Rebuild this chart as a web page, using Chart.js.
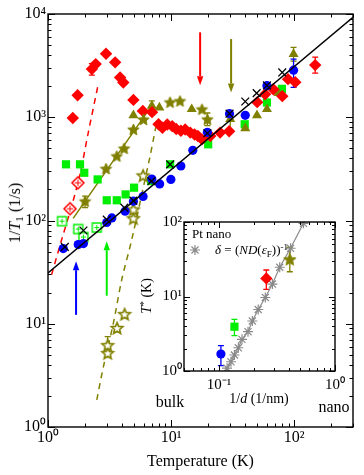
<!DOCTYPE html>
<html lang="en">
<head>
<meta charset="UTF-8">
<title>1/T1 versus temperature, Pt nano</title>
<script src="https://cdn.jsdelivr.net/npm/chart.js"></script>
<style>
  body { margin: 0; background: #fff; }
  #wrap { position: relative; width: 364px; height: 475px; overflow: hidden; }
  #mainChart { position: absolute; left: 0; top: 0; width: 364px; height: 475px; }
  #insetChart { position: absolute; left: 130px; top: 206px; width: 225px; height: 200px; }
  .lbl { position: absolute; font-family: "Liberation Serif", "Times New Roman", serif; color: #000;
         white-space: nowrap; line-height: 1; transform: translate(-50%, -50%); }
  .rot { transform: translate(-50%, -50%) rotate(-90deg); }
  .sub { font-size: 0.7em; position: relative; top: 0.3em; }
  .sup { font-size: 0.7em; position: relative; top: -0.45em; }
</style>
</head>
<body>
<div id="wrap">
  <canvas id="mainChart" width="364" height="475"></canvas>
  <canvas id="insetChart" width="225" height="200"></canvas>

  <div class="lbl rot" style="left:15px; top:213px; font-size:16px;">1/<i>T</i><span class="sub">1</span> (1/s)</div>
  <div class="lbl" style="left:170px; top:402px; font-size:16px;">bulk</div>
  <div class="lbl" style="left:334px; top:407px; font-size:16px;">nano</div>
  <div class="lbl" style="left:259px; top:399px; font-size:14px;">1/<i>d</i> (1/nm)</div>
  <div class="lbl rot" style="left:147px; top:296px; font-size:14px;"><i>T</i><span class="sup">*</span> (K)</div>
  <div class="lbl" style="left:192px; top:233px; font-size:13px; transform: translate(0, -50%);">Pt nano</div>
  <div class="lbl" style="left:215px; top:250px; font-size:13px; transform: translate(0, -50%);"><i>δ</i> = (<i>ND</i>(<i>ε</i><span class="sub">F</span>))<span class="sup">-1</span></div>
</div>

<script>
const FONT = '"Liberation Serif", "Times New Roman", serif';
const RED = '#ff0000', BLUE = '#0000ff', GREEN = '#00ee00', OLIVE = '#808000', GRAY = '#8a8a8a';

// ---- main plot: temperature (K) vs 1/T1 (1/s) ----
const redT = [1.59, 1.74, 2.27, 2.44, 2.96, 3.51, 3.85, 4.09, 4.94, 5.89, 7.0, 7.9, 8.5, 9.3, 10.2, 11.0, 12.0, 13.0, 14.3, 15.5, 16.5, 17.8, 20.8, 25.0, 29.6, 50, 58, 67.5, 80, 89, 102, 148];
const redV = [985, 1636, 2925, 3270, 4120, 3400, 2430, 2170, 1472, 1152, 1120, 855, 790, 850, 820, 770, 740, 760, 710, 680, 658, 611, 658, 710, 731, 1400, 1672, 1870, 1600, 2340, 2188, 3200];
const redOpenT = [1.51, 1.75];
const redOpenV = [130, 232];
const redFitT = [1.07, 1.29, 1.57, 1.82, 2.11, 2.55];
const redFitV = [29.9, 65, 143, 280, 684, 2045];

const oliveTriT = [4.94, 6.97, 8.03, 14.7, 30.2, 40, 49.8, 60, 74.5, 98.7];
const oliveTriV = [1045, 1288, 1242, 1197, 957, 780, 1045, 1196, 1710, 4090];
const oliveStarT = [2.0, 2.96, 3.62, 4.15, 4.94, 5.96, 9.8, 11.8, 17.8, 19.7];
const oliveStarV = [154, 318, 421, 500, 764, 955, 1400, 1440, 1197, 957];
const oliveFitT = [1.6, 7.0];
const oliveFitV = [105, 1310];
const oliveOpenT = [3.05, 3.05, 3.64, 4.19, 4.94, 4.94, 5.92];
const oliveOpenV = [5.2, 6.2, 9.1, 12.4, 105, 128, 273];
const oliveDashT = [2.49, 2.82, 3.4, 3.97, 4.79, 6.75, 7.18, 7.5];
const oliveDashV = [1.83, 3.85, 10.2, 26.7, 65.4, 421, 611, 800];

const greenT = [1.4, 1.82, 1.97, 2.53, 3.0, 3.62, 4.27, 5.0, 6.88, 9.82, 20, 39.6, 60, 79.4];
const greenV = [350, 350, 290, 250, 157, 157, 179, 208, 241, 350, 547, 855, 1390, 1885];
const greenOpenT = [1.3, 1.76, 1.94, 2.49];
const greenOpenV = [98.5, 82.7, 69.2, 85.5];

const blueT = [1.33, 1.76, 1.94, 3.0, 3.3, 4.23, 4.94, 5.92, 6.97, 8.07, 9.95, 12, 15, 19.7, 29.8, 40, 60, 98.7];
const blueV = [53.5, 58.5, 59.8, 95.6, 106, 123, 154, 171, 252, 226, 250, 337, 478, 715, 1082, 1045, 2023, 2860];
const crossT = [1.37, 1.94, 3.0, 4.17, 4.94, 6.92, 9.82, 19.7, 29.8, 40, 49.5, 60, 79.9];
const crossV = [55.6, 80, 102, 133, 156, 241, 350, 700, 1082, 1420, 1710, 2032, 2715];
const korT = [1, 300];
const korV = [31, 9300];

// error bars (main)
const errT  = [2.27, 6.97, 2.0, 19.7, 30.2, 98.7, 98.7, 148, 3.05];
const errLo = [2560, 1150, 133, 830, 760, 3500, 1943, 2673, 5.0];
const errHi = [3300, 1440, 172, 1100, 1050, 4750, 3660, 3825, 7.5];
const errColor = [RED, OLIVE, OLIVE, OLIVE, OLIVE, OLIVE, BLUE, RED, OLIVE];

// arrows (main)
const arrowT = [1.69, 3.0, 17.2, 30.7];
const arrowFrom = [12.2, 18.7, 6640, 5720];
const arrowTo = [40.3, 63, 2045, 1738];
const arrowColor = [BLUE, GREEN, RED, OLIVE];

// ---- inset: 1/d (1/nm) vs T* (K) ----
const deltaX = [0.1174, 0.127, 0.136, 0.147, 0.158, 0.178, 0.194, 0.218, 0.251, 0.289, 0.334, 0.414, 0.535];
const deltaV = [1.09, 1.33, 1.64, 2.05, 2.66, 3.37, 4.69, 6.69, 9.7, 14.7, 24.7, 44.4, 96];
const insBlueX = [0.104], insBlueV = [1.69];
const insGreenX = [0.136], insGreenV = [3.93];
const insRedX = [0.256], insRedV = [17.5];
const insOliveX = [0.408], insOliveV = [31.6];
const insErrX = [0.104, 0.136, 0.256, 0.408];
const insErrLo = [1.18, 2.98, 12.5, 21.5];
const insErrHi = [2.19, 4.94, 22.7, 45.7];
const insErrColor = [BLUE, GREEN, RED, OLIVE];

// ---- helpers ----
const pts = (xs, ys) => xs.map((x, i) => ({ x: x, y: ys[i] }));
const isPow10 = v => Math.abs(Math.log10(v) - Math.round(Math.log10(v))) < 1e-6;
const SUP = { '-': '\u207B', '0': '\u2070', '1': '\u00B9', '2': '\u00B2', '3': '\u00B3', '4': '\u2074' };
function powLabel(v) {
  if (!isPow10(v)) return '';
  return '10' + String(Math.round(Math.log10(v))).split('').map(c => SUP[c]).join('');
}
function logTicks(min, max) {
  const out = [];
  for (let e = Math.floor(Math.log10(min)); e <= Math.ceil(Math.log10(max)); e++) {
    for (let m = 1; m <= 9; m++) {
      const v = m * Math.pow(10, e);
      if (v >= min * 0.999 && v <= max * 1.001) out.push({ value: v });
    }
  }
  return out;
}

function makeStar(r, fill, stroke, lw) {
  const c = document.createElement('canvas');
  const s = Math.ceil(2 * r + lw + 2);
  c.width = c.height = s;
  const g = c.getContext('2d');
  g.beginPath();
  for (let k = 0; k < 10; k++) {
    const rr = k % 2 ? r * 0.45 : r;
    const a = -Math.PI / 2 + k * Math.PI / 5;
    g.lineTo(s / 2 + rr * Math.cos(a), s / 2 + 0.6 + rr * Math.sin(a));
  }
  g.closePath();
  g.fillStyle = fill; g.fill();
  g.lineWidth = lw; g.strokeStyle = stroke; g.stroke();
  return c;
}
function makeCrossed(shape, h, color, lw) {
  const c = document.createElement('canvas');
  const s = Math.ceil(2 * h + lw + 2);
  c.width = c.height = s;
  const g = c.getContext('2d');
  const m = s / 2;
  g.beginPath();
  if (shape === 'diamond') {
    g.moveTo(m, m - h); g.lineTo(m + h, m); g.lineTo(m, m + h); g.lineTo(m - h, m);
  } else {
    g.rect(m - h, m - h, 2 * h, 2 * h);
  }
  g.closePath();
  g.fillStyle = '#fff'; g.fill();
  g.lineWidth = lw; g.strokeStyle = color; g.stroke();
  g.beginPath();
  const k = h * 0.55;
  g.moveTo(m - k, m); g.lineTo(m + k, m);
  g.moveTo(m, m - k); g.lineTo(m, m + k);
  g.lineWidth = 1; g.stroke();
  return c;
}

const starFilled = makeStar(6, OLIVE, OLIVE, 1);
const starOpen = makeStar(6, '#fff', OLIVE, 1.6);
const starInset = makeStar(6.5, OLIVE, OLIVE, 1);
const diamondOpen = makeCrossed('diamond', 6, RED, 1.5);
const squareOpen = makeCrossed('square', 4.5, GREEN, 1.4);

// inward ticks on all four sides plus the frame
function framePlugin(major, minor) {
  return {
    id: 'frame',
    afterDraw(chart) {
      const { ctx, chartArea: a } = chart;
      const sx = chart.scales.x, sy = chart.scales.y;
      ctx.save();
      ctx.strokeStyle = '#000';
      ctx.lineWidth = 1;
      ctx.beginPath();
      sx.ticks.forEach(t => {
        const p = Math.round(sx.getPixelForValue(t.value)) + 0.5;
        const len = isPow10(t.value) ? major : minor;
        ctx.moveTo(p, a.bottom); ctx.lineTo(p, a.bottom - len);
        ctx.moveTo(p, a.top); ctx.lineTo(p, a.top + len);
      });
      sy.ticks.forEach(t => {
        const p = Math.round(sy.getPixelForValue(t.value)) + 0.5;
        const len = isPow10(t.value) ? major : minor;
        ctx.moveTo(a.left, p); ctx.lineTo(a.left + len, p);
        ctx.moveTo(a.right, p); ctx.lineTo(a.right - len, p);
      });
      ctx.stroke();
      ctx.lineWidth = 1.4;
      ctx.strokeRect(a.left, a.top, a.right - a.left, a.bottom - a.top);
      ctx.restore();
    }
  };
}

function errorPlugin(xs, lo, hi, colors) {
  return {
    id: 'errbars',
    beforeDatasetsDraw(chart) {
      const { ctx } = chart;
      const sx = chart.scales.x, sy = chart.scales.y;
      ctx.save();
      ctx.lineWidth = 1.3;
      xs.forEach((x, i) => {
        const px = sx.getPixelForValue(x);
        const y1 = sy.getPixelForValue(lo[i]), y2 = sy.getPixelForValue(hi[i]);
        ctx.strokeStyle = colors[i];
        ctx.beginPath();
        ctx.moveTo(px, y1); ctx.lineTo(px, y2);
        ctx.moveTo(px - 3, y1); ctx.lineTo(px + 3, y1);
        ctx.moveTo(px - 3, y2); ctx.lineTo(px + 3, y2);
        ctx.stroke();
      });
      ctx.restore();
    }
  };
}

const arrowPlugin = {
  id: 'arrows',
  afterDatasetsDraw(chart) {
    const { ctx } = chart;
    const sx = chart.scales.x, sy = chart.scales.y;
    ctx.save();
    arrowT.forEach((t, i) => {
      const px = sx.getPixelForValue(t);
      const y0 = sy.getPixelForValue(arrowFrom[i]);
      const y1 = sy.getPixelForValue(arrowTo[i]);
      const dir = y1 < y0 ? -1 : 1;
      const head = 9;
      ctx.strokeStyle = arrowColor[i];
      ctx.fillStyle = arrowColor[i];
      ctx.lineWidth = 2;
      ctx.beginPath();
      ctx.moveTo(px, y0); ctx.lineTo(px, y1 - dir * head);
      ctx.stroke();
      ctx.beginPath();
      ctx.moveTo(px, y1);
      ctx.lineTo(px - 3.2, y1 - dir * head);
      ctx.lineTo(px + 3.2, y1 - dir * head);
      ctx.closePath();
      ctx.fill();
    });
    ctx.restore();
  }
};

const insetLegend = {
  id: 'insetLegend',
  afterDraw(chart) {
    const { ctx, chartArea: a } = chart;
    const cx = a.left + 11, cy = a.top + 28, r = 5;
    ctx.save();
    ctx.strokeStyle = GRAY;
    ctx.lineWidth = 1.2;
    ctx.beginPath();
    for (let k = 0; k < 4; k++) {
      const ang = k * Math.PI / 4;
      ctx.moveTo(cx - r * Math.cos(ang), cy - r * Math.sin(ang));
      ctx.lineTo(cx + r * Math.cos(ang), cy + r * Math.sin(ang));
    }
    ctx.stroke();
    ctx.restore();
  }
};

function logAxis(min, max, fitKey, fitSize, fontSize, pad) {
  return {
    type: 'logarithmic', min: min, max: max, bounds: 'data',
    grid: { display: false, drawTicks: false },
    border: { display: false },
    afterBuildTicks: s => { s.ticks = logTicks(min, max); },
    afterFit: s => { s[fitKey] = fitSize; },
    ticks: {
      autoSkip: false, maxRotation: 0, minRotation: 0, padding: pad,
      color: '#000', font: { family: FONT, size: fontSize },
      callback: v => powLabel(v)
    }
  };
}

// ---- main chart ----
const xMain = logAxis(1, 300, 'height', 48, 16, 1);
xMain.title = { display: true, text: 'Temperature (K)', color: '#000',
  font: { family: FONT, size: 16 }, padding: { top: 0, bottom: 4 } };
const yMain = logAxis(1, 10000, 'width', 48, 16, 2);

new Chart(document.getElementById('mainChart'), {
  type: 'scatter',
  data: {
    datasets: [
      { data: pts(redFitT, redFitV), showLine: true, pointRadius: 0, borderColor: RED, borderWidth: 1.5, borderDash: [6, 5], tension: 0.3, order: 20 },
      { data: pts(oliveDashT, oliveDashV), showLine: true, pointRadius: 0, borderColor: OLIVE, borderWidth: 1.5, borderDash: [6, 5], tension: 0.3, order: 19 },
      { data: pts(oliveFitT, oliveFitV), showLine: true, pointRadius: 0, borderColor: OLIVE, borderWidth: 1.5, order: 18 },
      { data: pts(greenT, greenV), pointStyle: 'rect', pointRadius: 5.8, backgroundColor: GREEN, borderColor: GREEN, borderWidth: 0, order: 15 },
      { data: pts(greenOpenT, greenOpenV), pointStyle: squareOpen, pointRadius: 5, order: 14 },
      { data: pts(oliveTriT, oliveTriV), pointStyle: 'triangle', pointRadius: 5.8, backgroundColor: OLIVE, borderColor: OLIVE, borderWidth: 0, order: 13 },
      { data: pts(redT, redV), pointStyle: 'rectRot', pointRadius: 6.2, backgroundColor: RED, borderColor: RED, borderWidth: 0, order: 12 },
      { data: pts(oliveStarT, oliveStarV), pointStyle: starFilled, pointRadius: 5, order: 11 },
      { data: pts(oliveOpenT, oliveOpenV), pointStyle: starOpen, pointRadius: 5, order: 10 },
      { data: pts(redOpenT, redOpenV), pointStyle: diamondOpen, pointRadius: 5, order: 9 },
      { data: pts(blueT, blueV), pointStyle: 'circle', pointRadius: 4.6, backgroundColor: BLUE, borderColor: BLUE, borderWidth: 0, order: 8 },
      { data: pts(korT, korV), showLine: true, pointRadius: 0, borderColor: '#000', borderWidth: 1.5, order: 7 },
      { data: pts(crossT, crossV), pointStyle: 'crossRot', pointRadius: 5.5, borderColor: '#000', borderWidth: 1.3, order: 6 }
    ]
  },
  options: {
    responsive: false,
    animation: false,
    devicePixelRatio: 1,
    layout: { padding: { left: 0, right: 11, top: 14, bottom: 0 } },
    scales: { x: xMain, y: yMain },
    plugins: { legend: { display: false }, tooltip: { enabled: false } }
  },
  plugins: [errorPlugin(errT, errLo, errHi, errColor), arrowPlugin, framePlugin(7, 3.5)]
});

// ---- inset chart ----
new Chart(document.getElementById('insetChart'), {
  type: 'scatter',
  data: {
    datasets: [
      { data: pts(deltaX, deltaV), showLine: true, pointStyle: 'star', pointRadius: 5, borderColor: GRAY, borderWidth: 1.2, order: 5 },
      { data: pts(insBlueX, insBlueV), pointStyle: 'circle', pointRadius: 4.6, backgroundColor: BLUE, borderColor: BLUE, borderWidth: 0, order: 4 },
      { data: pts(insGreenX, insGreenV), pointStyle: 'rect', pointRadius: 5.8, backgroundColor: GREEN, borderColor: GREEN, borderWidth: 0, order: 3 },
      { data: pts(insRedX, insRedV), pointStyle: 'rectRot', pointRadius: 6.2, backgroundColor: RED, borderColor: RED, borderWidth: 0, order: 2 },
      { data: pts(insOliveX, insOliveV), pointStyle: starInset, pointRadius: 5, order: 1 }
    ]
  },
  options: {
    responsive: false,
    animation: false,
    devicePixelRatio: 1,
    layout: { padding: { left: 0, right: 20, top: 16, bottom: 0 } },
    scales: { x: logAxis(0.05, 1, 'height', 35, 15, 5), y: logAxis(1, 100, 'width', 54, 15, 2) },
    plugins: { legend: { display: false }, tooltip: { enabled: false } }
  },
  plugins: [errorPlugin(insErrX, insErrLo, insErrHi, insErrColor), framePlugin(6, 3), insetLegend]
});
</script>
</body>
</html>
